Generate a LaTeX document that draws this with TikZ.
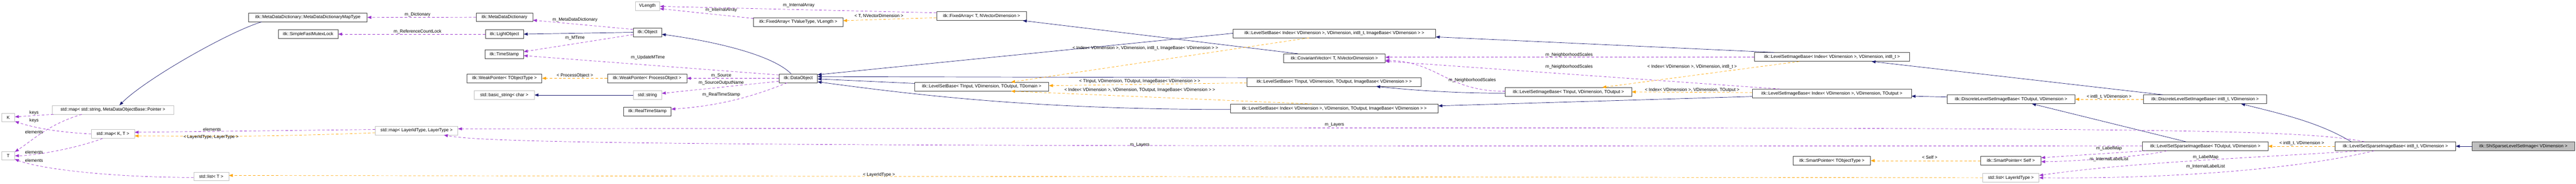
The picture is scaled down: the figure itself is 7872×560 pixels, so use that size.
\documentclass[tikz,border=0pt]{standalone}
\usepackage{fontspec}
\setmainfont{Liberation Sans}
\usetikzlibrary{arrows.meta,calc}
\definecolor{inh}{HTML}{191970}
\definecolor{use}{HTML}{9A32CD}
\definecolor{tpl}{HTML}{FFA500}
\definecolor{gb}{HTML}{BFBFBF}
\definecolor{db}{HTML}{404040}
\begin{document}
\begin{tikzpicture}[x=0.1pt,y=-0.1pt,
  wd/.style={minimum width=#1*0.1pt},
  box/.style={draw=db,line width=0.11pt,fill=white,minimum height=2.65pt,inner sep=0pt,font=\fontsize{1.35}{1.4}\selectfont},
  gbox/.style={box,draw=gb},
  tip/.style={-{Triangle[length=1.2pt,width=0.9pt]}},
  inh/.style={tip,draw=inh,line width=0.11pt},
  use/.style={tip,draw=use,line width=0.11pt,dash pattern=on 0.8pt off 0.6pt},
  tpl/.style={tip,draw=tpl,line width=0.11pt,dash pattern=on 0.8pt off 0.6pt},
  lbl/.style={font=\fontsize{1.35}{1.4}\selectfont,inner sep=0pt}]
\useasboundingbox (0,0) rectangle (7872,560);
% nodes
\node[gbox,wd=372] (mapStr) at (345,334.5) {std::map< std::string, MetaDataObjectBase::Pointer >};
\node[gbox,wd=40] (K) at (25,358) {K};
\node[gbox,wd=132] (mapKT) at (345,408) {std::map< K, T >};
\node[gbox,wd=40] (T) at (25,474.5) {T};
\node[gbox,wd=107] (listT) at (645.5,537.5) {std::list< T >};
\node[box,wd=362] (MapType) at (941,53) {itk::MetaDataDictionary::MetaDataDictionaryMapType};
\node[box,wd=183] (Mutex) at (941.5,104) {itk::SimpleFastMutexLock};
\node[gbox,wd=252] (mapLayer) at (1273,397.5) {std::map< LayerIdType, LayerType >};
\node[gbox,wd=75] (VLength) at (1978.5,18.5) {VLength};
\node[box,wd=173] (MDD) at (1541.5,52.5) {itk::MetaDataDictionary};
\node[box,wd=117] (Light) at (1541.5,104) {itk::LightObject};
\node[box,wd=87] (Object) at (1978.5,98.5) {itk::Object};
\node[box,wd=118] (TS) at (1541,165.5) {itk::TimeStamp};
\node[box,wd=229] (WPT) at (1541.5,238.5) {itk::WeakPointer< TObjectType >};
\node[box,wd=243] (WPP) at (1977.5,238.5) {itk::WeakPointer< ProcessObject >};
\node[gbox,wd=184] (bstr) at (1541,289.5) {std::basic\_string< char >};
\node[gbox,wd=87] (str) at (1978.5,289.5) {std::string};
\node[box,wd=145] (RTS) at (1978.5,339.5) {itk::RealTimeStamp};
\node[box,wd=273] (FATV) at (2439.5,67) {itk::FixedArray< TValueType, VLength >};
\node[box,wd=117] (DO) at (2439.5,238.5) {itk::DataObject};
\node[box,wd=275] (FATN) at (2999.5,49) {itk::FixedArray< T, NVectorDimension >};
\node[box,wd=410] (LSBT) at (3000,264) {itk::LevelSetBase< TInput, VDimension, TOutput, TDomain >};
\node[box,wd=619] (LSBI8) at (4077.5,101.5) {itk::LevelSetBase< Index< VDimension >, VDimension, int8\_t, ImageBase< VDimension > >};
\node[box,wd=311] (CV) at (4077.5,177.5) {itk::CovariantVector< T, NVectorDimension >};
\node[box,wd=532] (LSBTI) at (4077,249.5) {itk::LevelSetBase< TInput, VDimension, TOutput, ImageBase< VDimension > >};
\node[box,wd=635] (LSBIO) at (4077.5,330.5) {itk::LevelSetBase< Index< VDimension >, VDimension, TOutput, ImageBase< VDimension > >};
\node[box,wd=386] (LSIBT) at (4793,280) {itk::LevelSetImageBase< TInput, VDimension, TOutput >};
\node[box,wd=473] (LSIBI8) at (5598.5,173.5) {itk::LevelSetImageBase< Index< VDimension >, VDimension, int8\_t >};
\node[box,wd=486] (LSIBIO) at (5598,285) {itk::LevelSetImageBase< Index< VDimension >, VDimension, TOutput >};
\node[box,wd=236] (SPT) at (5598,489.5) {itk::SmartPointer< TObjectType >};
\node[box,wd=391] (DLT) at (6145.5,302.5) {itk::DiscreteLevelSetImageBase< TOutput, VDimension >};
\node[box,wd=184] (SPS) at (6145,489.5) {itk::SmartPointer< Self >};
\node[gbox,wd=172] (listL) at (6145,541.5) {std::list< LayerIdType >};
\node[box,wd=377] (DL8) at (6738.5,302.5) {itk::DiscreteLevelSetImageBase< int8\_t, VDimension >};
\node[box,wd=384] (LSST) at (6739,445.5) {itk::LevelSetSparseImageBase< TOutput, VDimension >};
\node[box,wd=368] (LSS8) at (7320,445.5) {itk::LevelSetSparseImageBase< int8\_t, VDimension >};
\node[box,fill=gb,wd=312] (Shi) at (7711,445.5) {itk::ShiSparseLevelSetImage< VDimension >};
% inheritance
\draw[inh] ($(MapType.south west)+(40,0)$) .. controls +(-100,30) and +(80,-80) .. ($(mapStr.north)+(20,0)$);
\draw[inh] (Object.west) -- (Light.east);
\draw[inh] (str.west) -- (bstr.east);
\draw[inh] ($(DO.north)+(-22,0)$) .. controls +(-60,-60) and +(150,20) .. ($(Object.east)+(0,6)$);
\draw[inh] (LSBI8.west) -- ($(DO.north east)+(0,3)$);
\draw[inh] ($(LSBTI.west)+(0,-13)$) -- ($(DO.east)+(0,-5)$);
\draw[inh] ($(LSBT.north west)+(0,4)$) -- ($(DO.east)+(0,2)$);
\draw[inh] ($(LSBIO.west)+(0,3)$) .. controls +(-600,0) and +(300,40) .. ($(DO.south east)+(0,-3)$);
\draw[inh] ($(CV.north west)+(45,0)$) -- ($(FATN.south east)+(-12,0)$);
\draw[inh] ($(LSIBT.west)+(0,4)$) .. controls +(-200,0) and +(50,5) .. ($(LSBTI.south east)+(-138,0)$);
\draw[inh] ($(LSIBI8.north west)+(60,0)$) -- ($(LSBI8.east)+(0,11)$);
\draw[inh] ($(LSIBIO.west)+(0,9)$) -- ($(LSBIO.east)+(0,-8)$);
\draw[inh] ($(DLT.west)+(0,-7)$) -- ($(LSIBIO.east)+(0,8)$);
\draw[inh] ($(DL8.north west)+(60,0)$) -- ($(LSIBI8.south)+(121,0)$);
\draw[inh] ($(LSST.north)+(-59,0)$) -- ($(DLT.south)+(64,0)$);
\draw[inh] ($(LSS8.north)+(-135,0)$) .. controls +(-100,-60) and +(120,30) .. ($(DL8.south)+(110,0)$);
\draw[inh] (Shi.west) -- (LSS8.east);
% usage
\draw[use] (MDD.west) -- (MapType.east);
\draw[use] (Light.west) -- (Mutex.east);
\draw[use] ($(Object.west)+(0,-9)$) -- ($(MDD.east)+(0,9)$);
\draw[use] ($(Object.west)+(0,7)$) -- ($(TS.east)+(0,-8)$);
\draw[use] ($(DO.west)+(0,-10)$) -- ($(TS.east)+(0,4)$);
\draw[use] (DO.west) -- (WPP.east);
\draw[use] ($(DO.west)+(0,9)$) -- ($(str.east)+(0,-5)$);
\draw[use] ($(DO.south west)+(25,0)$) .. controls +(-100,40) and +(150,-10) .. ($(RTS.east)+(0,-7)$);
\draw[use] ($(FATV.north west)+(0,3)$) -- ($(VLength.east)+(0,8)$);
\draw[use] ($(FATN.west)+(0,-10)$) -- ($(VLength.east)+(0,1)$);
\draw[use] ($(mapStr.south west)+(5,0)$) -- ($(K.east)+(0,-2)$);
\draw[use] ($(mapStr.south)+(-95,0)$) .. controls +(-100,30) and +(60,-40) .. ($(T.north east)+(0,2)$);
\draw[use] (mapKT.west) .. controls +(-100,-5) and +(60,20) .. ($(K.south east)+(0,-2)$);
\draw[use] ($(mapKT.south west)+(35,0)$) .. controls +(-80,30) and +(60,0) .. (T.east);
\draw[use] ($(listT.west)+(0,3)$) .. controls +(-250,0) and +(80,30) .. ($(T.south east)+(0,-3)$);
\draw[use] ($(mapLayer.west)+(0,-3)$) -- ($(mapKT.east)+(0,-5)$);
\draw[use] ($(LSS8.north west)+(90,0)$) .. controls (7000,388) and (6500,386) .. ($(mapLayer.east)+(0,-5)$);
\draw[use] ($(LSST.west)+(0,-1)$) .. controls (2500,447) and (1500,440) .. ($(mapLayer.south east)+(-43,0)$);
\draw[use] ($(LSIBT.west)+(0,-2)$) .. controls (4420,278) and (4400,190) .. ($(CV.east)+(0,6)$);
\draw[use] ($(LSIBI8.west)+(0,1)$) -- ($(CV.east)+(0,-3)$);
\draw[use] ($(LSIBIO.north west)+(85,0)$) -- ($(CV.east)+(0,9)$);
\draw[use] ($(LSST.south west)+(12,0)$) -- ($(SPS.east)+(0,-9)$);
\draw[use] ($(LSST.south west)+(75,0)$) .. controls +(-50,15) and +(100,0) .. ($(SPS.east)+(0,3)$);
\draw[use] ($(LSS8.south west)+(80,0)$) .. controls (6900,480) and (6500,495) .. ($(listL.east)+(0,-7)$);
\draw[use] ($(LSS8.south west)+(120,0)$) .. controls (7000,520) and (6600,545) .. ($(listL.east)+(0,0)$);
% template
\draw[tpl] (WPP.west) -- (WPT.east);
\draw[tpl] ($(FATN.west)+(0,5)$) -- ($(FATV.east)+(0,-4)$);
\draw[tpl] ($(mapLayer.west)+(0,7)$) .. controls +(-400,15) and +(200,0) .. ($(mapKT.east)+(0,6)$);
\draw[tpl] (listL.west) -- ($(listT.east)+(0,-3)$);
\draw[tpl] ($(LSBI8.south)+(-77,0)$) -- ($(LSBT.north)+(90,0)$);
\draw[tpl] ($(LSBTI.west)+(0,3)$) -- ($(LSBT.east)+(0,-3)$);
\draw[tpl] ($(LSBIO.north west)+(250,0)$) -- ($(LSBT.south)+(90,0)$);
\draw[tpl] ($(LSIBI8.south)+(-100,0)$) -- ($(LSIBT.north east)+(-90,0)$);
\draw[tpl] ($(LSIBIO.west)+(0,-3)$) -- (LSIBT.east);
\draw[tpl] (SPS.west) -- (SPT.east);
\draw[tpl] (DL8.west) -- (DLT.east);
\draw[tpl] (LSS8.west) -- (LSST.east);
% labels
\node[lbl] (l1) at (1276,45) {m\_Dictionary};
\node[lbl] (l2) at (1276,96) {m\_ReferenceCountLock};
\node[lbl] (l3) at (1757,60) {m\_MetaDataDictionary};
\node[lbl] (l4) at (1757,115) {m\_MTime};
\node[lbl] (l5) at (1980,176) {m\_UpdateMTime};
\node[lbl] (l6) at (1757,230) {< ProcessObject >};
\node[lbl] (l7) at (2204,230) {m\_Source};
\node[lbl] (l8) at (2204,252) {m\_SourceOutputName};
\node[lbl] (l9) at (2204,289) {m\_RealTimeStamp};
\node[lbl] (l10) at (2204,31) {m\_InternalArray};
\node[lbl] (l11) at (2441,16) {m\_InternalArray};
\node[lbl] (l12) at (2686,48) {< T, NVectorDimension >};
\node[lbl] (l13) at (104,343) {keys};
\node[lbl] (l14) at (104,368) {keys};
\node[lbl] (l15) at (104,402) {elements};
\node[lbl] (l16) at (104,464) {elements};
\node[lbl] (l17) at (104,488) {elements};
\node[lbl] (l18) at (648,394) {elements};
\node[lbl] (l19) at (645,418) {< LayerIdType, LayerType >};
\node[lbl] (l20) at (2686,532) {< LayerIdType >};
\node[lbl] (l21) at (3500,147) {< Index< VDimension >, VDimension, int8\_t, ImageBase< VDimension > >};
\node[lbl] (l22) at (3483,247) {< TInput, VDimension, TOutput, ImageBase< VDimension > >};
\node[lbl] (l23) at (3483,275) {< Index< VDimension >, VDimension, TOutput, ImageBase< VDimension > >};
\node[lbl] (l24) at (3483,441) {m\_Layers};
\node[lbl] (l25) at (4078,380) {m\_Layers};
\node[lbl] (l26) at (4499,244) {m\_NeighborhoodScales};
\node[lbl] (l27) at (4795,168) {m\_NeighborhoodScales};
\node[lbl] (l28) at (4795,203) {m\_NeighborhoodScales};
\node[lbl] (l29) at (5171,204) {< Index< VDimension >, VDimension, int8\_t >};
\node[lbl] (l30) at (5171,275) {< Index< VDimension >, VDimension, TOutput >};
\node[lbl] (l31) at (5897,480) {< Self >};
\node[lbl] (l32) at (6445,295) {< int8\_t, VDimension >};
\node[lbl] (l33) at (6445,453) {m\_LabelMap};
\node[lbl] (l34) at (6445,485) {m\_InternalLabelList};
\node[lbl] (l35) at (6740,479) {m\_LabelMap};
\node[lbl] (l36) at (6740,508) {m\_InternalLabelList};
\node[lbl] (l37) at (7034,437) {< int8\_t, VDimension >};
\end{tikzpicture}
\end{document}
